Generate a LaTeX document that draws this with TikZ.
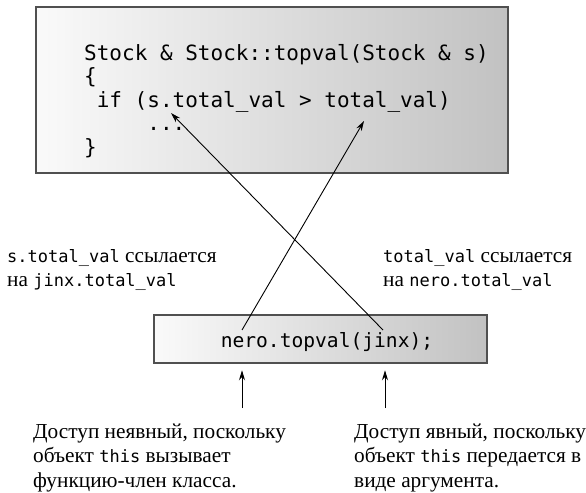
\documentclass[tikz,border=0pt]{standalone}
\usepackage{fontspec}
\setmainfont{Liberation Serif}
\newfontfamily\codefont{DejaVu Sans Mono}
\usetikzlibrary{arrows.meta}
\definecolor{boxgray}{HTML}{505050}
\newcommand\mycode[1]{{\codefont\fontsize{17bp}{17bp}\selectfont #1}}
\tikzset{
  panel/.style={draw=boxgray, line width=2.5bp, left color=black!2, right color=black!24, inner sep=0},
  codeline/.style={anchor=base west, inner sep=0, font=\codefont\fontsize{21bp}{23.5bp}\selectfont},
  calltext/.style={inner sep=0, font=\codefont\fontsize{19.6bp}{22bp}\selectfont},
  lbl/.style={anchor=base west, inner sep=0, font=\fontsize{21.3bp}{24bp}\selectfont},
  arr/.style={-{Stealth[length=10bp,width=6bp]}, line width=0.9bp, black},
}
\begin{document}
\begin{tikzpicture}[x=1bp,y=-1bp]
\useasboundingbox (0,0) rectangle (586,493);
% top panel
\node[panel, minimum width=472bp, minimum height=166bp] (top) at (272,90) {};
\node[codeline] (l1) at (84,60.5) {Stock \& Stock::topval(Stock \& s)};
\node[codeline] (l2) at (84,84) {\{};
\node[codeline] (l3) at (96.6,107.5) {if (s.total\_val > total\_val)};
\node[codeline] (l4) at (147.2,131) {...};
\node[codeline] (l5) at (84,154.5) {\}};
\coordinate (tipS) at (171,113);
\coordinate (tipT) at (364,121);
% call panel
\node[panel, minimum width=333bp, minimum height=48bp] (call) at (320.5,339) {};
\node[calltext] (ctext) at (327,342.5) {nero.topval(jinx);};
\coordinate (sA) at (242,330);
\coordinate (sB) at (383,330);
\draw[arr] (sA) -- (tipT);
\draw[arr] (sB) -- (tipS);
\coordinate (bA) at (242,408);
\coordinate (bB) at (385,408);
\draw[arr, shorten >=6bp] (bA) -- (bA |- call.south);
\draw[arr, shorten >=6bp] (bB) -- (bB |- call.south);
% middle labels
\node[lbl] (ml1) at (7,262) {\mycode{s.total\_val} ссылается};
\node[lbl] (ml2) at (7,286) {на \mycode{jinx.total\_val}};
\node[lbl] (mr1) at (383,262) {\mycode{total\_val} ссылается};
\node[lbl] (mr2) at (383,286) {на \mycode{nero.total\_val}};
% bottom labels
\node[lbl] (bl1) at (33,438) {Доступ неявный, поскольку};
\node[lbl] (bl2) at (33,462) {объект \mycode{this} вызывает};
\node[lbl] (bl3) at (33,487) {функцию-член класса.};
\node[lbl] (br1) at (354,438) {Доступ явный, поскольку};
\node[lbl] (br2) at (354,462) {объект \mycode{this} передается в};
\node[lbl] (br3) at (354,487) {виде аргумента.};
\end{tikzpicture}
\end{document}
